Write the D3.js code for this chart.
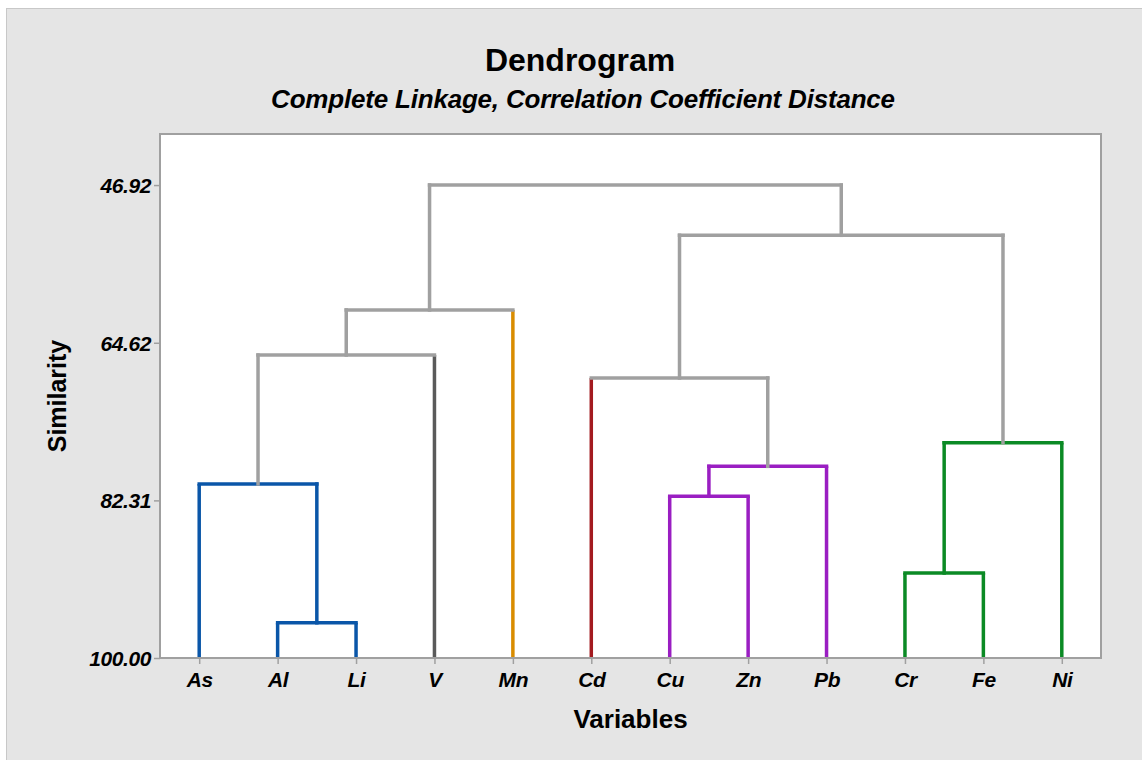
<!doctype html>
<html lang="en">
  <head>
    <meta charset="utf-8">
    <title>Dendrogram</title>
    <script src="https://cdnjs.cloudflare.com/ajax/libs/d3/7.8.5/d3.min.js"></script>
    <style>
      body { margin: 0; background: #fff; }
      text { font-family: "Liberation Sans", Arial, sans-serif; fill: #000; }
    </style>
  </head>
  <body>
    <div id="my_dataviz"></div>
    <script>
      // leaves, left to right
      var leaves = ["As", "Al", "Li", "V", "Mn", "Cd", "Cu", "Zn", "Pb", "Cr", "Fe", "Ni"];
      var leafColors = ["#0a56a8", "#0a56a8", "#0a56a8", "#5a5a5a", "#d98c00", "#a31a1f",
                        "#9a1ec2", "#9a1ec2", "#9a1ec2", "#0b8a25", "#0b8a25", "#0b8a25"];

      // amalgamation steps (m1..m11)
      var mergeA     = ["Al", "Cr", "Cu", "As", "m3", "m2", "Cd", "m4", "m8", "m7", "m9"];
      var mergeB     = ["Li", "Fe", "Zn", "m1", "Pb", "Ni", "m5", "V",  "Mn", "m6", "m10"];
      var mergeSim   = [96.05, 90.46, 81.85, 80.47, 78.49, 75.84, 68.57, 66.00, 60.94, 52.56, 46.92];
      var mergeColor = ["#0a56a8", "#0b8a25", "#9a1ec2", "#0a56a8", "#9a1ec2", "#0b8a25",
                        "#a0a0a0", "#a0a0a0", "#a0a0a0", "#a0a0a0", "#a0a0a0"];

      var yTicks = [46.92, 64.62, 82.31, 100.00];

      var W = 1142, H = 760;
      var plot = {left: 160, top: 134, right: 1101, bottom: 658};
      var grey = "#a0a0a0";

      var svg = d3.select("#my_dataviz").append("svg")
          .attr("width", W)
          .attr("height", H);

      // outer frame
      svg.append("rect")
          .attr("x", 6.5).attr("y", 8.5)
          .attr("width", W).attr("height", H)
          .attr("fill", "#e5e5e5")
          .attr("stroke", "#c8c8c8");

      svg.append("rect")
          .attr("x", plot.left).attr("y", plot.top)
          .attr("width", plot.right - plot.left)
          .attr("height", plot.bottom - plot.top)
          .attr("fill", "#fff")
          .attr("stroke", grey)
          .attr("stroke-width", 2);

      var x = d3.scalePoint()
          .domain(leaves)
          .range([plot.left, plot.right])
          .padding(0.5);

      var y = d3.scaleLinear()
          .domain([41.19, 100])
          .range([plot.top, plot.bottom]);

      // axes
      var yAxis = svg.append("g")
          .attr("transform", "translate(" + plot.left + ",0)")
          .call(d3.axisLeft(y).tickValues(yTicks).tickFormat(d3.format(".2f")).tickSize(6).tickPadding(3));
      yAxis.select(".domain").remove();
      yAxis.selectAll("line").attr("stroke", grey).attr("stroke-width", 1.5);
      yAxis.selectAll("text")
          .style("font-size", "21px").style("font-weight", "bold").style("font-style", "italic")
          .style("letter-spacing", "-0.4px")
          .attr("dy", "0.35em");

      var xAxis = svg.append("g")
          .attr("transform", "translate(0," + plot.bottom + ")")
          .call(d3.axisBottom(x).tickSize(6).tickPadding(8));
      xAxis.select(".domain").remove();
      xAxis.selectAll("line").attr("stroke", grey).attr("stroke-width", 1.5);
      xAxis.selectAll("text")
          .style("font-size", "21px").style("font-weight", "bold").style("font-style", "italic")
          .style("letter-spacing", "-0.4px");

      // dendrogram geometry
      var pos = {};
      leaves.forEach(function(l, i) {
          pos[l] = {x: x(l), sim: 100, leaf: true, color: leafColors[i]};
      });
      mergeA.forEach(function(a, i) {
          var b = mergeB[i];
          pos["m" + (i + 1)] = {x: (pos[a].x + pos[b].x) / 2, sim: mergeSim[i], leaf: false, color: mergeColor[i]};
      });

      var links = svg.append("g")
          .attr("fill", "none")
          .attr("stroke-width", 3.5)
          .attr("stroke-linecap", "square");

      mergeA.forEach(function(a, i) {
          var b = mergeB[i];
          var col = mergeColor[i];
          var yy = y(mergeSim[i]);
          [a, b].forEach(function(c) {
              var ch = pos[c];
              var legCol = col !== grey ? col : (ch.leaf ? ch.color : grey);
              links.append("line")
                  .attr("x1", ch.x).attr("x2", ch.x)
                  .attr("y1", ch.leaf ? plot.bottom - 1 : y(ch.sim))
                  .attr("y2", yy)
                  .attr("stroke", legCol)
                  .attr("stroke-linecap", ch.leaf ? "butt" : "square");
          });
          links.append("line")
              .attr("x1", pos[a].x).attr("x2", pos[b].x)
              .attr("y1", yy).attr("y2", yy)
              .attr("stroke", col);
      });

      // titles
      svg.append("text")
          .attr("x", 580).attr("y", 71)
          .attr("text-anchor", "middle")
          .style("font-size", "32px").style("font-weight", "bold")
          .text("Dendrogram");

      svg.append("text")
          .attr("x", 583).attr("y", 108)
          .attr("text-anchor", "middle")
          .style("font-size", "26px").style("font-weight", "bold").style("font-style", "italic")
          .style("letter-spacing", "-0.2px")
          .text("Complete Linkage, Correlation Coefficient Distance");

      svg.append("text")
          .attr("x", (plot.left + plot.right) / 2).attr("y", 728)
          .attr("text-anchor", "middle")
          .style("font-size", "26px").style("font-weight", "bold")
          .text("Variables");

      svg.append("text")
          .attr("transform", "translate(66," + ((plot.top + plot.bottom) / 2) + ") rotate(-90)")
          .attr("text-anchor", "middle")
          .style("font-size", "25px").style("font-weight", "bold")
          .text("Similarity");
    </script>
  </body>
</html>
